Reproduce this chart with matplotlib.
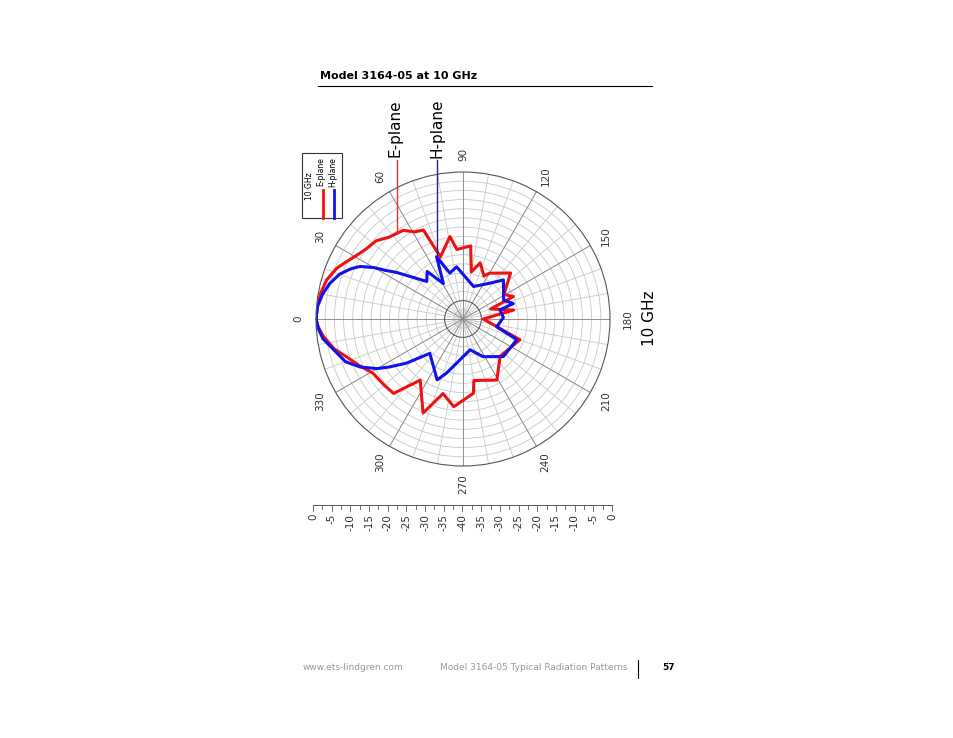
import numpy as np
import matplotlib
matplotlib.use("Agg")
import matplotlib.pyplot as plt
from matplotlib.lines import Line2D
from matplotlib.patches import Rectangle

# angle (deg) / level (dB)
e_ang = [0, 5, 10, 16, 22, 26, 31, 36, 42, 48, 56, 61, 66, 70, 81, 85, 96, 100, 107, 116, 120, 136, 149, 156, 160, 170, 180,
         200, 225, 241, 260, 262, 276, 285, 293, 305, 313, 320, 329, 336, 342, 347, 353, 357, 360]
e_db = [0, -0.2, -0.6, -1.4, -3, -4.6, -6.3, -7.5, -8.2, -10, -10.9, -12.9, -13.5, -22, -17.3, -21, -20, -27, -24, -27, -25.6, -22, -27, -25, -32, -26, -34.5,
        -23.5, -25.7, -21, -23, -19.6, -16, -19, -12.2, -19.7, -12.3, -12, -11.4, -9, -6.7, -4, -1.7, -0.5, 0]
h_ang = [0, 5, 10, 15, 20, 24, 27, 30, 32, 35, 46, 53, 61, 67, 74, 83, 108, 127, 136, 155, 163, 166, 178, 193, 201, 223, 242, 257,
         287, 293, 314, 322, 327, 330, 335, 340, 347, 352, 356, 360]
h_db = [0, -0.3, -1.2, -2.5, -4.3, -6.5, -8.5, -12, -15, -17.9, -25.8, -23.8, -29, -21.6, -27, -25.7, -30.7, -27.8, -24.7, -27.8, -25.7, -29.6, -29, -30.6, -24.3, -25, -28.4, -31.4,
        -24.6, -22, -27, -20.5, -16, -13, -9.1, -6, -3.7, -1.5, -0.6, 0]
angle_labels = [0, 30, 60, 90, 120, 150, 180, 210, 240, 270, 300, 330]
scale_labels = ["0", "-5", "-10", "-15", "-20", "-25", "-30", "-35", "-40",
                "-35", "-30", "-25", "-20", "-15", "-10", "-5", "0"]

W, H = 954, 738
fig = plt.figure(figsize=(9.54, 7.38), dpi=100)


def fx(x, y):
    return x / W, 1 - y / H


cx, cy, R = 463, 319, 147
ax = fig.add_axes([(cx - R) / W, (H - cy - R) / H, 2 * R / W, 2 * R / H], projection="polar")
ax.set_theta_zero_location("W")
ax.set_theta_direction(-1)
ax.set_ylim(-40, 0)
ax.set_yticks(np.arange(-37.5, 0, 2.5))
ax.set_yticklabels([])
ax.set_xticks(np.deg2rad(np.arange(0, 360, 10)))
ax.set_xticklabels([])
ax.grid(True, color="#c8c8c8", lw=0.6)
ax.spines["polar"].set_color("#555555")
ax.spines["polar"].set_linewidth(0.8)
for a in range(0, 360, 30):
    ax.plot([np.deg2rad(a)] * 2, [-40, 0], color="#888888", lw=0.6)
tt = np.linspace(0, 2 * np.pi, 200)
ax.plot(tt, np.full_like(tt, -35), color="#555555", lw=0.7)
ax.plot(np.deg2rad(e_ang), e_db, color="#ee1111", lw=2.2)
ax.plot(np.deg2rad(h_ang), h_db, color="#1111ee", lw=2.2)

# angle labels (rotated page)
for a in angle_labels:
    t = np.deg2rad(a)
    x = cx - 165 * np.cos(t)
    y = cy - 165 * np.sin(t)
    fig.text(*fx(x, y), str(a), rotation=90, ha="center", va="center", fontsize=7.5, color="#333333")

# dB scale bar
x0, x1, yb = 313, 612, 505
fig.add_artist(Line2D([x0 / W, x1 / W], [1 - yb / H] * 2, color="#555555", lw=0.7))
for i in range(33):
    x = x0 + i * (x1 - x0) / 32
    L = 6 if i % 2 == 0 else 4
    fig.add_artist(Line2D([x / W] * 2, [1 - yb / H, 1 - (yb + L) / H], color="#555555", lw=0.6))
for i, s in enumerate(scale_labels):
    x = x0 + i * (x1 - x0) / 16
    fig.text(*fx(x, 514), s, rotation=90, ha="center", va="top", fontsize=7.5, color="#333333")

# legend box
fig.add_artist(Rectangle(fx(302, 218), 40 / W, 65 / H, fill=False, ec="#333333", lw=0.8))
fig.text(*fx(310, 186), "10 GHz", rotation=90, ha="center", va="center", fontsize=5.5)
fig.add_artist(Line2D([323 / W] * 2, [1 - 218 / H, 1 - 190 / H], color="#ee1111", lw=2))
fig.add_artist(Line2D([334 / W] * 2, [1 - 218 / H, 1 - 190 / H], color="#1111ee", lw=2))
fig.text(*fx(321, 172), "E-plane", rotation=90, ha="center", va="center", fontsize=5.5)
fig.text(*fx(333, 172), "H-plane", rotation=90, ha="center", va="center", fontsize=5.5)

# annotations
fig.text(*fx(395, 128), "E-plane", rotation=90, ha="center", va="center", fontsize=11)
fig.add_artist(Line2D([397 / W] * 2, [1 - 160 / H, 1 - 232 / H], color="#dd3333", lw=1))
fig.text(*fx(437, 128), "H-plane", rotation=90, ha="center", va="center", fontsize=11)
fig.add_artist(Line2D([437 / W] * 2, [1 - 160 / H, 1 - 255 / H], color="#222288", lw=1))
fig.text(*fx(650, 318), "10 GHz", rotation=90, ha="center", va="center", fontsize=11)

# page header / footer
fig.text(*fx(320, 76), "Model 3164-05 at 10 GHz", fontsize=8, fontweight="bold", va="center")
fig.add_artist(Line2D([318 / W, 652 / W], [1 - 86 / H] * 2, color="black", lw=0.8))
fig.text(*fx(303, 668), "www.ets-lindgren.com", fontsize=6.5, color="#999999", va="center")
fig.text(*fx(440, 668), "Model 3164-05 Typical Radiation Patterns", fontsize=6.5, color="#999999", va="center")
fig.add_artist(Line2D([638 / W] * 2, [1 - 660 / H, 1 - 678 / H], color="black", lw=0.8))
fig.text(*fx(662, 668), "57", fontsize=6.5, fontweight="bold", va="center")

fig.savefig("out.png", dpi=100)
